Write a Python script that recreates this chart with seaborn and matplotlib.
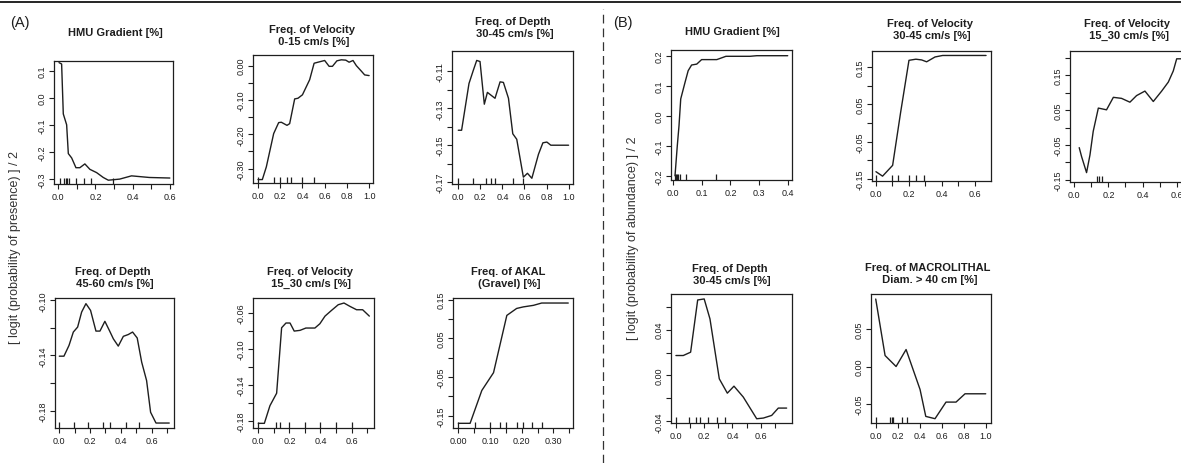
# Partial dependence plots, presence (A) and abundance (B) models
import matplotlib
matplotlib.use("Agg")
import matplotlib.pyplot as plt
import numpy as np
import seaborn as sns

# ---- data ----
# (A) presence model
a1_x = [0.004, 0.018, 0.027, 0.045, 0.054, 0.072, 0.095, 0.116, 0.143, 0.17, 0.206, 0.242, 0.269, 0.33, 0.394, 0.49, 0.6]
a1_y = [0.129, 0.124, -0.06, -0.10, -0.206, -0.222, -0.258, -0.258, -0.244, -0.264, -0.276, -0.294, -0.304, -0.30, -0.288, -0.294, -0.296]
a1_rug = [0.009, 0.03, 0.039, 0.048, 0.057, 0.095, 0.138, 0.174, 0.296]

a2_x = [0.0, 0.039, 0.075, 0.141, 0.186, 0.21, 0.261, 0.285, 0.33, 0.36, 0.40, 0.465, 0.505, 0.54, 0.60, 0.64, 0.67,
        0.71, 0.75, 0.79, 0.82, 0.855, 0.885, 0.93, 0.96, 1.0]
a2_y = [-0.332, -0.332, -0.295, -0.198, -0.166, -0.165, -0.174, -0.169, -0.097, -0.095, -0.085, -0.041, 0.007, 0.01,
        0.015, -0.002, -0.002, 0.014, 0.017, 0.016, 0.01, 0.015, 0.0, -0.016, -0.027, -0.029]
a2_rug = [0.0, 0.14, 0.2, 0.26, 0.3, 0.4, 0.5]

a3_x = [0.0, 0.03, 0.097, 0.136, 0.167, 0.197, 0.236, 0.264, 0.294, 0.333, 0.379, 0.409, 0.455, 0.494, 0.53, 0.59,
        0.627, 0.667, 0.727, 0.767, 0.803, 0.839, 1.0]
a3_y = [-0.1419, -0.1419, -0.1166, -0.1095, -0.1041, -0.1047, -0.1278, -0.1214, -0.1228, -0.1246, -0.1157, -0.116,
        -0.1246, -0.1438, -0.1468, -0.1673, -0.1652, -0.1679, -0.1549, -0.1487, -0.1483, -0.15, -0.15]
a3_rug = [0.0, 0.136, 0.252, 0.294, 0.333, 0.5, 0.59]

a4_x = [0.0, 0.03, 0.063, 0.091, 0.119, 0.145, 0.173, 0.203, 0.238, 0.264, 0.296, 0.325, 0.351, 0.383, 0.416, 0.448,
        0.476, 0.506, 0.535, 0.567, 0.593, 0.628, 0.714]
a4_y = [-0.1405, -0.1405, -0.1327, -0.123, -0.1194, -0.1085, -0.1024, -0.1073, -0.1223, -0.1223, -0.1152, -0.1218,
        -0.1279, -0.1332, -0.1261, -0.1248, -0.123, -0.1273, -0.1448, -0.1582, -0.1812, -0.189, -0.189]
a4_rug = [0.0, 0.095, 0.188, 0.281, 0.329, 0.433, 0.519]

a5_x = [0.0, 0.039, 0.075, 0.118, 0.15, 0.178, 0.204, 0.231, 0.268, 0.306, 0.364, 0.396, 0.429, 0.471, 0.514, 0.551,
        0.589, 0.632, 0.671, 0.714]
a5_y = [-0.183, -0.183, -0.1633, -0.1494, -0.0764, -0.0711, -0.0711, -0.0801, -0.0793, -0.0767, -0.0767, -0.0719,
        -0.0634, -0.057, -0.0507, -0.0488, -0.0525, -0.0563, -0.0563, -0.0634]
a5_rug = [0.0, 0.114, 0.14, 0.2, 0.3, 0.4, 0.5, 0.6]

a6_x = [0.0, 0.037, 0.074, 0.111, 0.153, 0.184, 0.205, 0.237, 0.263, 0.347]
a6_y = [-0.1699, -0.1699, -0.085, -0.039, 0.109, 0.127, 0.131, 0.135, 0.141, 0.141]
a6_rug = [0.0, 0.053, 0.1, 0.132, 0.15, 0.184, 0.205, 0.232, 0.263]

# (B) abundance model
b1_x = [0.006, 0.014, 0.02, 0.026, 0.041, 0.052, 0.064, 0.082, 0.099, 0.152, 0.184, 0.268, 0.292, 0.4]
b1_y = [-0.2, -0.1, -0.033, 0.056, 0.111, 0.15, 0.169, 0.172, 0.187, 0.187, 0.198, 0.198, 0.2, 0.2]
b1_rug = [0.006, 0.01, 0.014, 0.018, 0.022, 0.045, 0.15]

b2_x = [0.0, 0.04, 0.101, 0.149, 0.2, 0.242, 0.277, 0.307, 0.358, 0.404, 0.667]
b2_y = [-0.131, -0.143, -0.114, 0.027, 0.168, 0.171, 0.169, 0.164, 0.177, 0.181, 0.181]
b2_rug = [0.0, 0.1, 0.135, 0.2, 0.242, 0.29]

b3_x = [0.029, 0.043, 0.072, 0.092, 0.111, 0.141, 0.17, 0.189, 0.229, 0.277, 0.326, 0.365, 0.414, 0.463, 0.512,
        0.551, 0.58, 0.6, 0.655]
b3_y = [-0.058, -0.084, -0.13, -0.079, -0.011, 0.056, 0.053, 0.051, 0.087, 0.084, 0.073, 0.092, 0.105, 0.075, 0.105,
        0.131, 0.163, 0.198, 0.198]
b3_rug = [0.131, 0.145, 0.16]

b4_x = [0.0, 0.052, 0.104, 0.154, 0.2, 0.241, 0.307, 0.364, 0.411, 0.477, 0.572, 0.619, 0.678, 0.725, 0.784]
b4_y = [0.0174, 0.0174, 0.0203, 0.0658, 0.0667, 0.0493, -0.0029, -0.0154, -0.0093, -0.0188, -0.0377, -0.0371,
        -0.0348, -0.0284, -0.0284]
b4_rug = [0.0, 0.094, 0.142, 0.17, 0.229, 0.288, 0.347]

b5_x = [0.0, 0.085, 0.185, 0.276, 0.403, 0.455, 0.539, 0.639, 0.73, 0.812, 1.0]
b5_y = [0.091, 0.0148, 0.0, 0.0229, -0.031, -0.0673, -0.0704, -0.048, -0.048, -0.0368, -0.0368]
b5_rug = [0.0, 0.13, 0.145, 0.16, 0.236, 0.282]

titles = {
    "a1": "HMU Gradient [%]",
    "a2": "Freq. of Velocity\n 0-15 cm/s [%]",
    "a3": "Freq. of Depth\n 30-45 cm/s [%]",
    "a4": "Freq. of Depth\n 45-60 cm/s [%]",
    "a5": "Freq. of Velocity\n 15_30 cm/s [%]",
    "a6": "Freq. of AKAL\n (Gravel) [%]",
    "b1": "HMU Gradient [%]",
    "b2": "Freq. of Velocity\n 30-45 cm/s [%]",
    "b3": "Freq. of Velocity\n 15_30 cm/s [%]",
    "b4": "Freq. of Depth\n 30-45 cm/s [%]",
    "b5": "Freq. of MACROLITHAL\n Diam. > 40 cm [%]",
}

# x ticks (all) and which of them get a label
a1_xt, a1_xl = np.arange(0, 0.61, 0.1), ["0.0", "", "0.2", "", "0.4", "", "0.6"]
a2_xt, a2_xl = np.arange(0, 1.01, 0.2), ["0.0", "0.2", "0.4", "0.6", "0.8", "1.0"]
a3_xt, a3_xl = a2_xt, a2_xl
a4_xt, a4_xl = np.arange(0, 0.71, 0.1), ["0.0", "", "0.2", "", "0.4", "", "0.6", ""]
a5_xt, a5_xl = a4_xt, a4_xl
a6_xt, a6_xl = np.arange(0, 0.351, 0.05), ["0.00", "", "0.10", "", "0.20", "", "0.30", ""]
b1_xt, b1_xl = np.arange(0, 0.41, 0.1), ["0.0", "0.1", "0.2", "0.3", "0.4"]
b2_xt, b2_xl = np.arange(0, 0.61, 0.1), ["0.0", "", "0.2", "", "0.4", "", "0.6"]
b3_xt, b3_xl = b2_xt, b2_xl
b4_xt, b4_xl = np.arange(0, 0.71, 0.1), ["0.0", "", "0.2", "", "0.4", "", "0.6", ""]
b5_xt, b5_xl = a2_xt, a2_xl

# y ticks (all) and labels
a1_yt, a1_yl = [-0.3, -0.2, -0.1, 0.0, 0.1], ["-0.3", "-0.2", "-0.1", "0.0", "0.1"]
a2_yt, a2_yl = [-0.30, -0.25, -0.20, -0.15, -0.10, -0.05, 0.0], ["-0.30", "", "-0.20", "", "-0.10", "", "0.00"]
a3_yt, a3_yl = [-0.17, -0.16, -0.15, -0.14, -0.13, -0.12, -0.11], ["-0.17", "", "-0.15", "", "-0.13", "", "-0.11"]
a4_yt, a4_yl = [-0.18, -0.16, -0.14, -0.12, -0.10], ["-0.18", "", "-0.14", "", "-0.10"]
a5_yt, a5_yl = [-0.18, -0.16, -0.14, -0.12, -0.10, -0.08, -0.06], ["-0.18", "", "-0.14", "", "-0.10", "", "-0.06"]
a6_yt, a6_yl = [-0.15, -0.10, -0.05, 0.0, 0.05, 0.10, 0.15], ["-0.15", "", "-0.05", "", "0.05", "", "0.15"]
b1_yt, b1_yl = [-0.2, -0.1, 0.0, 0.1, 0.2], ["-0.2", "-0.1", "0.0", "0.1", "0.2"]
b2_yt, b2_yl = [-0.15, -0.10, -0.05, 0.0, 0.05, 0.10, 0.15], ["-0.15", "", "-0.05", "", "0.05", "", "0.15"]
b3_yt, b3_yl = [-0.15, -0.10, -0.05, 0.0, 0.05, 0.10, 0.15, 0.20], ["-0.15", "", "-0.05", "", "0.05", "", "0.15", ""]
b4_yt, b4_yl = [-0.04, -0.02, 0.0, 0.02, 0.04, 0.06], ["-0.04", "", "0.00", "", "0.04", ""]
b5_yt, b5_yl = [-0.05, 0.0, 0.05], ["-0.05", "0.00", "0.05"]

# ---- layout (pixels of a 1181x464 canvas) ----
W, H = 1181, 464
# frame: left, top, right, bottom ; title centre x, y ; xlim ; ylim
layout = {
    "a1": ((54, 62, 173, 185), (115, 33), (-0.023, 0.617), (-0.318, 0.135)),
    "a2": ((253, 56, 373, 184), (312, 36), (-0.045, 1.035), (-0.342, 0.031)),
    "a3": ((452, 52, 573, 185), (513, 28), (-0.057, 1.04), (-0.171, -0.099)),
    "a4": ((55, 299, 174, 429), (113, 278), (-0.028, 0.745), (-0.1926, -0.0983)),
    "a5": ((253, 299, 374, 429), (310, 278), (-0.034, 0.744), (-0.1882, -0.0432)),
    "a6": ((453, 299, 573, 429), (508, 278), (-0.017, 0.362), (-0.182, 0.154)),
    "b1": ((671, 51, 792, 181), (732, 32), (-0.008, 0.415), (-0.214, 0.219)),
    "b2": ((872, 52, 991, 182), (930, 30), (-0.024, 0.697), (-0.156, 0.193)),
    "b3": ((1070, 52, 1190, 183), (1127, 30), (-0.025, 0.678), (-0.157, 0.2205)),
    "b4": ((671, 295, 792, 424), (730, 275), (-0.035, 0.822), (-0.0414, 0.071)),
    "b5": ((871, 295, 991, 424), (928, 274), (-0.043, 1.048), (-0.0762, 0.0978)),
}

series = {
    "a1": (a1_x, a1_y, a1_rug, a1_xt, a1_xl, a1_yt, a1_yl),
    "a2": (a2_x, a2_y, a2_rug, a2_xt, a2_xl, a2_yt, a2_yl),
    "a3": (a3_x, a3_y, a3_rug, a3_xt, a3_xl, a3_yt, a3_yl),
    "a4": (a4_x, a4_y, a4_rug, a4_xt, a4_xl, a4_yt, a4_yl),
    "a5": (a5_x, a5_y, a5_rug, a5_xt, a5_xl, a5_yt, a5_yl),
    "a6": (a6_x, a6_y, a6_rug, a6_xt, a6_xl, a6_yt, a6_yl),
    "b1": (b1_x, b1_y, b1_rug, b1_xt, b1_xl, b1_yt, b1_yl),
    "b2": (b2_x, b2_y, b2_rug, b2_xt, b2_xl, b2_yt, b2_yl),
    "b3": (b3_x, b3_y, b3_rug, b3_xt, b3_xl, b3_yt, b3_yl),
    "b4": (b4_x, b4_y, b4_rug, b4_xt, b4_xl, b4_yt, b4_yl),
    "b5": (b5_x, b5_y, b5_rug, b5_xt, b5_xl, b5_yt, b5_yl),
}

sns.set_style("ticks")
plt.rcParams['font.family'] = ['Liberation Sans', 'DejaVu Sans']
ink = "#1e1e1e"

fig = plt.figure(figsize=(W / 100, H / 100), dpi=100)

for key, (x, y, rug, xt, xl, yt, yl) in series.items():
    (l, t, r, b), (tx, ty), xlim, ylim = layout[key]
    ax = fig.add_axes([l / W, 1 - b / H, (r - l) / W, (b - t) / H])
    sns.lineplot(x=x, y=y, ax=ax, color=ink, linewidth=1.0, estimator=None, sort=False)
    sns.rugplot(x=rug, ax=ax, height=0.045, color=ink, linewidth=0.9, expand_margins=False)
    ax.set_xlim(*xlim)
    ax.set_ylim(*ylim)
    ax.set_xticks(xt)
    ax.set_xticklabels(xl)
    ax.set_yticks(yt)
    ax.set_yticklabels(yl, rotation=90, va="center")
    ax.tick_params(length=3.5, width=0.8, labelsize=6.5, colors=ink, pad=2)
    for sp in ax.spines.values():
        sp.set_visible(True)
        sp.set_linewidth(0.9)
        sp.set_color(ink)
    ax.set_xlabel("")
    ax.set_ylabel("")
    fig.text(tx / W, 1 - ty / H, titles[key], ha="center", va="center",
             fontsize=8, fontweight="bold", color=ink, linespacing=1.15)

# panel letters and shared y labels
fig.text(20 / W, 1 - 23 / H, "(A)", ha="center", va="center", fontsize=10.5, color=ink)
fig.text(623 / W, 1 - 23 / H, "(B)", ha="center", va="center", fontsize=10.5, color=ink)
fig.text(15 / W, 1 - 247 / H, "[ logit (probability of presence) ] / 2", rotation=90,
         ha="center", va="center", fontsize=9, color="#333333")
fig.text(633 / W, 1 - 238 / H, "[ logit (probability of abundance) ] / 2", rotation=90,
         ha="center", va="center", fontsize=9, color="#333333")

# top rule and dashed divider
fig.add_artist(plt.Line2D([0, 1], [1 - 3 / H, 1 - 3 / H], color="black", linewidth=1.2))
fig.add_artist(plt.Line2D([603 / W, 603 / W], [0, 1 - 10 / H], color="#333333",
                          linewidth=0.9, linestyle=(0, (7, 4))))

fig.savefig("out.png", dpi=100)
